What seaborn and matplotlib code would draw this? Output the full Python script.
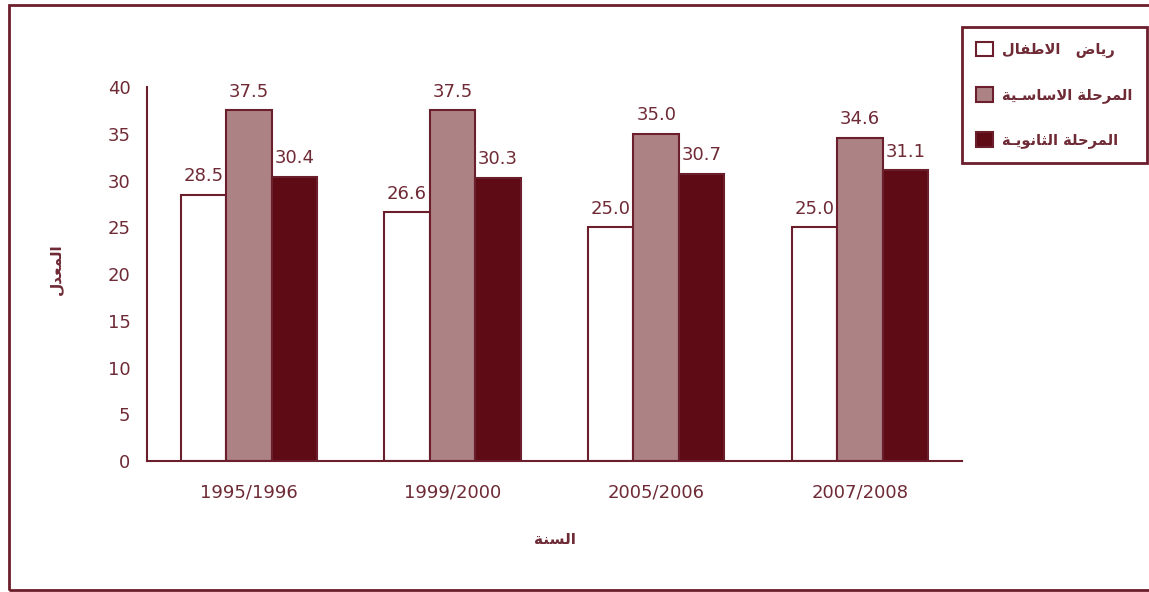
import matplotlib
matplotlib.use('Agg')
import matplotlib.pyplot as plt
import matplotlib.patches as mpatches
import seaborn as sns
import pandas as pd

years = ['1995/1996', '1999/2000', '2005/2006', '2007/2008']
kindergarten = [28.5, 26.6, 25.0, 25.0]
basic = [37.5, 37.5, 35.0, 34.6]
secondary = [30.4, 30.3, 30.7, 31.1]
series_names = ['رياض   الاطفال', 'المرحلة الاساسـية', 'المرحلة الثانويـة']
y_label = 'المعدل'
x_label = 'السنة'

# arabic letters: (isolated, final, initial, medial); None = does not join left
FORMS = {
    'ا': ('\uFE8D', '\uFE8E', None, None),
    'ل': ('\uFEDD', '\uFEDE', '\uFEDF', '\uFEE0'),
    'ط': ('\uFEC1', '\uFEC2', '\uFEC3', '\uFEC4'),
    'ف': ('\uFED1', '\uFED2', '\uFED3', '\uFED4'),
    'ر': ('\uFEAD', '\uFEAE', None, None),
    'ي': ('\uFEF1', '\uFEF2', '\uFEF3', '\uFEF4'),
    'ض': ('\uFEBD', '\uFEBE', '\uFEBF', '\uFEC0'),
    'م': ('\uFEE1', '\uFEE2', '\uFEE3', '\uFEE4'),
    'ح': ('\uFEA1', '\uFEA2', '\uFEA3', '\uFEA4'),
    'ة': ('\uFE93', '\uFE94', None, None),
    'س': ('\uFEB1', '\uFEB2', '\uFEB3', '\uFEB4'),
    'ث': ('\uFE99', '\uFE9A', '\uFE9B', '\uFE9C'),
    'ن': ('\uFEE5', '\uFEE6', '\uFEE7', '\uFEE8'),
    'و': ('\uFEED', '\uFEEE', None, None),
    'ع': ('\uFEC9', '\uFECA', '\uFECB', '\uFECC'),
    'د': ('\uFEA9', '\uFEAA', None, None),
    'ـ': ('ـ', 'ـ', 'ـ', 'ـ'),
}


def shape(text):
    out = []
    i = 0
    n = len(text)
    while i < n:
        c = text[i]
        if c not in FORMS:
            out.append(c)
            i += 1
            continue
        prev = text[i - 1] if i > 0 else ''
        joins_prev = prev in FORMS and FORMS[prev][2] is not None
        # lam-alef ligature
        if c == 'ل' and i + 1 < n and text[i + 1] == 'ا':
            out.append('\uFEFC' if joins_prev else '\uFEFB')
            i += 2
            continue
        nxt = text[i + 1] if i + 1 < n else ''
        joins_next = FORMS[c][2] is not None and nxt in FORMS
        iso, fin, ini, med = FORMS[c]
        if joins_prev and joins_next:
            out.append(med)
        elif joins_prev:
            out.append(fin)
        elif joins_next:
            out.append(ini)
        else:
            out.append(iso)
        i += 1
    return ''.join(out)[::-1]


maroon = '#6B1E2B'
text_col = '#6E2A35'
colors = ['#FFFFFF', '#AD8285', '#5E0B15']

df = pd.DataFrame({
    'year': years * 3,
    'value': kindergarten + basic + secondary,
    'series': [series_names[0]] * 4 + [series_names[1]] * 4 + [series_names[2]] * 4,
})

sns.set_style('white')
plt.rcParams['font.family'] = ['DejaVu Sans']

fig = plt.figure(figsize=(11.49, 5.92), dpi=100)
ax = fig.add_axes([0.128, 0.221, 0.709, 0.632])

sns.barplot(data=df, x='year', y='value', hue='series', palette=colors,
            edgecolor=maroon, linewidth=1.5, width=0.67, saturation=1,
            legend=False, ax=ax)

for cont in ax.containers:
    ax.bar_label(cont, fmt='%.1f', padding=7, fontsize=13, color=text_col)

ax.set_ylim(0, 40)
ax.set_yticks(range(0, 41, 5))
ax.set_xlim(-0.5, 3.5)
ax.set_xticks([-0.5, 0.5, 1.5, 2.5, 3.5], minor=False)
ax.set_xticklabels([])
ax.set_xticks(range(4), minor=True)
ax.set_xticklabels(years, minor=True)
ax.tick_params(axis='x', which='major', length=6, width=1.5, color=maroon, direction='out')
ax.tick_params(axis='x', which='minor', length=0, pad=16, labelsize=13, labelcolor=text_col)
ax.tick_params(axis='y', length=6, width=1.5, color=maroon, direction='out',
               labelsize=13, labelcolor=text_col, pad=6)

for side in ['top', 'right']:
    ax.spines[side].set_visible(False)
for side in ['left', 'bottom']:
    ax.spines[side].set_color(maroon)
    ax.spines[side].set_linewidth(1.5)

ax.set_xlabel('')
ax.set_ylabel('')
fig.text(0.483, 0.088, shape(x_label), ha='center', va='center',
         fontsize=11, fontweight='bold', color=text_col)
fig.text(0.048, 0.545, shape(y_label), ha='center', va='center', rotation=90,
         fontsize=11, fontweight='bold', color=text_col)

handles = [mpatches.Patch(facecolor=c, edgecolor=maroon, linewidth=1.5) for c in colors]
leg = fig.legend(handles, [shape(s) for s in series_names],
                 loc='upper left', bbox_to_anchor=(0.837, 0.954), borderaxespad=0,
                 frameon=True, fancybox=False, framealpha=1,
                 handlelength=1.15, handleheight=1.15,
                 labelspacing=2.0, borderpad=1.0, handletextpad=0.6,
                 prop={'size': 10.5, 'weight': 'bold'})
leg.get_frame().set_edgecolor(maroon)
leg.get_frame().set_linewidth(2)
for t in leg.get_texts():
    t.set_color(text_col)

# outer frame
frame = mpatches.Rectangle((0.008, 0.003), 1.2, 0.989, transform=fig.transFigure,
                           fill=False, edgecolor=maroon, linewidth=2, clip_on=False)
fig.patches.append(frame)

fig.savefig('out.png', dpi=100)
